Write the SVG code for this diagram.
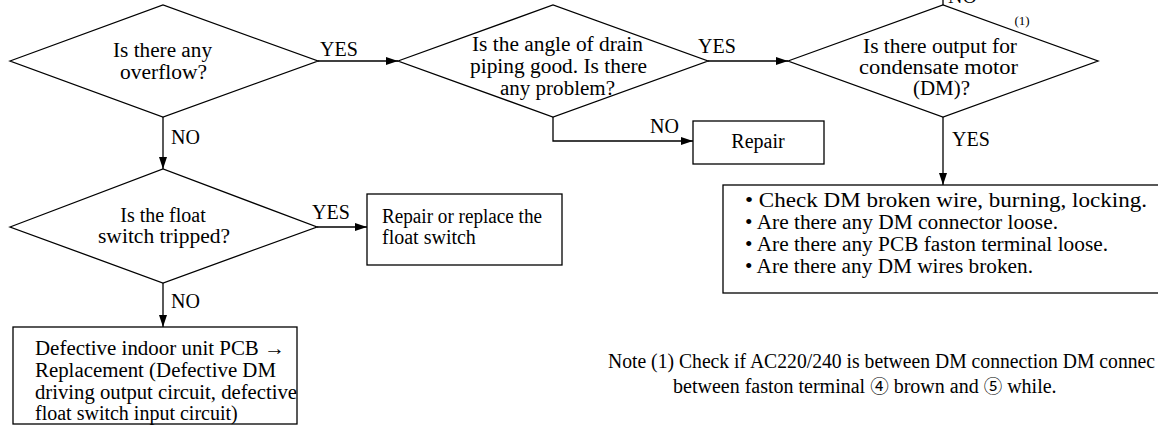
<svg xmlns="http://www.w3.org/2000/svg" width="1158" height="435" viewBox="0 0 1158 435">
<defs>
<marker id="ah" markerUnits="userSpaceOnUse" markerWidth="13" markerHeight="9" refX="12" refY="4" orient="auto">
<path d="M0,0 L12,4 L0,8 z" fill="#000"/>
</marker>
<style>
.s{fill:#fff;stroke:#000;stroke-width:1.3}
.c{fill:none;stroke:#000;stroke-width:1.3}
.a{marker-end:url(#ah)}
text{font-family:"Liberation Serif","DejaVu Sans","Noto Sans CJK JP",serif;font-size:20px;fill:#000}
.m{text-anchor:middle}
.sm{font-size:13px}
.cd{font-family:"Noto Sans CJK JP","Noto Sans CJK SC",sans-serif;font-size:18.5px}
</style>
</defs>
<rect width="1158" height="435" fill="#fff"/>
<g id="connectors">
<path class="c a" d="M318,61 H398"/>
<path class="c a" d="M708,61 H788"/>
<path class="c" d="M943,5 V-2"/>
<path class="c a" d="M163,117 V169"/>
<path class="c a" d="M553,117 V141 H693"/>
<path class="c a" d="M317,227 H367"/>
<path class="c a" d="M163,283 V327"/>
<path class="c a" d="M943,117 V185"/>
<text x="320" y="56">YES</text>
<text x="698" y="53">YES</text>
<text x="948" y="2.5">NO</text>
<text x="171" y="144">NO</text>
<text x="650" y="133">NO</text>
<text x="312" y="219">YES</text>
<text x="952" y="146">YES</text>
<text x="171" y="308">NO</text>
</g>
<g id="d1">
<polygon class="s" points="10,61 163,5 318,61 163,117"/>
<text class="m" x="162.5" y="57" textLength="99" lengthAdjust="spacingAndGlyphs">Is there any</text>
<text class="m" x="163.5" y="79" textLength="87" lengthAdjust="spacingAndGlyphs">overflow?</text>
</g>
<g id="d2">
<polygon class="s" points="398,61 553,5 708,61 553,117"/>
<text class="m" x="557.5" y="51" textLength="171" lengthAdjust="spacingAndGlyphs">Is the angle of drain</text>
<text class="m" x="558.5" y="73" textLength="177" lengthAdjust="spacingAndGlyphs">piping good. Is there</text>
<text class="m" x="557.5" y="94.5" textLength="115" lengthAdjust="spacingAndGlyphs">any problem?</text>
</g>
<g id="d3">
<polygon class="s" points="788,61 943,5 1098,61 943,117"/>
<text class="m" x="940" y="52.5" textLength="154" lengthAdjust="spacingAndGlyphs">Is there output for</text>
<text class="m" x="938.5" y="74" textLength="159" lengthAdjust="spacingAndGlyphs">condensate motor</text>
<text class="m" x="941.5" y="95" textLength="57" lengthAdjust="spacingAndGlyphs">(DM)?</text>
<text class="m sm" x="1022" y="25">(1)</text>
</g>
<g id="d4">
<polygon class="s" points="10,227 163,169 317,227 163,283"/>
<text class="m" x="163" y="222">Is the float</text>
<text class="m" x="164" y="243" textLength="132" lengthAdjust="spacingAndGlyphs">switch tripped?</text>
</g>
<g id="repair">
<rect class="s" x="693" y="121" width="131" height="43"/>
<text class="m" x="758" y="148">Repair</text>
</g>
<g id="replace">
<rect class="s" x="367" y="194" width="195" height="71"/>
<text x="382" y="223" textLength="160" lengthAdjust="spacingAndGlyphs">Repair or replace the</text>
<text x="382" y="244">float switch</text>
</g>
<g id="pcb">
<rect class="s" x="13" y="327" width="284" height="97"/>
<text x="35" y="355" textLength="250" lengthAdjust="spacingAndGlyphs">Defective indoor unit PCB →</text>
<text x="35" y="377" textLength="241" lengthAdjust="spacingAndGlyphs">Replacement (Defective DM</text>
<text x="35" y="398.5" textLength="262" lengthAdjust="spacingAndGlyphs">driving output circuit, defective</text>
<text x="35" y="420">float switch input circuit)</text>
</g>
<g id="checks">
<rect class="s" x="723" y="185" width="445" height="108"/>
<text x="745" y="207" textLength="402" lengthAdjust="spacingAndGlyphs">• Check DM broken wire, burning, locking.</text>
<text x="745" y="229" textLength="313" lengthAdjust="spacingAndGlyphs">• Are there any DM connector loose.</text>
<text x="745" y="251" textLength="363" lengthAdjust="spacingAndGlyphs">• Are there any PCB faston terminal loose.</text>
<text x="745" y="272.5" textLength="288" lengthAdjust="spacingAndGlyphs">• Are there any DM wires broken.</text>
</g>
<g id="note">
<text x="608" y="368" textLength="547" lengthAdjust="spacingAndGlyphs">Note (1) Check if AC220/240 is between DM connection DM connec</text>
<text x="673" y="393">between faston terminal <tspan class="cd">④</tspan> brown and <tspan class="cd">⑤</tspan> while.</text>
</g>
</svg>
